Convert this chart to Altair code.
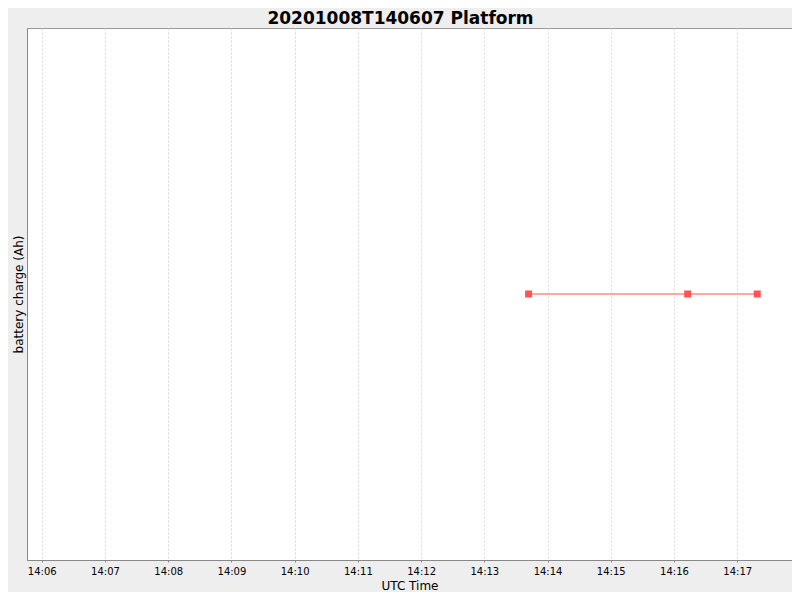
import altair as alt
import pandas as pd

times = ["2020-10-08T14:13:42Z", "2020-10-08T14:16:13Z", "2020-10-08T14:17:19Z"]
charge = [12.5, 12.5, 12.5]
tick_minutes = [6, 7, 8, 9, 10, 11, 12, 13, 14, 15, 16, 17]

df = pd.DataFrame({"time": times, "charge": charge})

def dt(h, m, s=0):
    return alt.DateTime(year=2020, month=10, date=8, hours=h, minutes=m, seconds=s, utc=True)

xscale = alt.Scale(type="utc", domain=[dt(14, 5, 46), dt(14, 17, 52)])
yscale = alt.Scale(domain=[12.0, 13.0])

x = alt.X("time:T", scale=xscale,
          axis=alt.Axis(title="UTC Time", format="%H:%M", values=[dt(14, m) for m in tick_minutes],
                        grid=True, gridDash=[2, 2], gridColor="#D8D8D8", gridWidth=1,
                        domainColor="#888888", tickColor="#888888", tickSize=2,
                        labelFont="DejaVu Sans", labelFontSize=10, labelColor="#000000", labelPadding=4,
                        titleFont="DejaVu Sans", titleFontSize=12, titleFontWeight="normal",
                        titleColor="#000000", titlePadding=4))
y = alt.Y("charge:Q", scale=yscale,
          axis=alt.Axis(title="battery charge (Ah)", labels=False, ticks=False, grid=False,
                        domainColor="#888888",
                        titleFont="DejaVu Sans", titleFontSize=12, titleFontWeight="normal",
                        titleColor="#000000", titlePadding=2))

base = alt.Chart(df).encode(x=x, y=y)
line = base.mark_line(color="#FF5555", strokeWidth=1.2)
pts = base.mark_point(shape="square", filled=True, size=49, color="#FF5555", opacity=1)

chart = (line + pts).properties(
    width=765, height=532,
    background="#EEEEEE",
    padding={"left": 19, "top": 20, "right": 0, "bottom": 32},
    autosize=alt.AutoSizeParams(type="none"),
    title=alt.TitleParams("20201008T140607 Platform", font="DejaVu Sans", fontSize=17,
                          fontWeight="bold", color="#000000", anchor="middle", dx=-9, offset=0),
).configure_view(fill="white", stroke="#999999", strokeWidth=1)

chart.save("out.html", embed_options={"renderer": "svg", "actions": False})
